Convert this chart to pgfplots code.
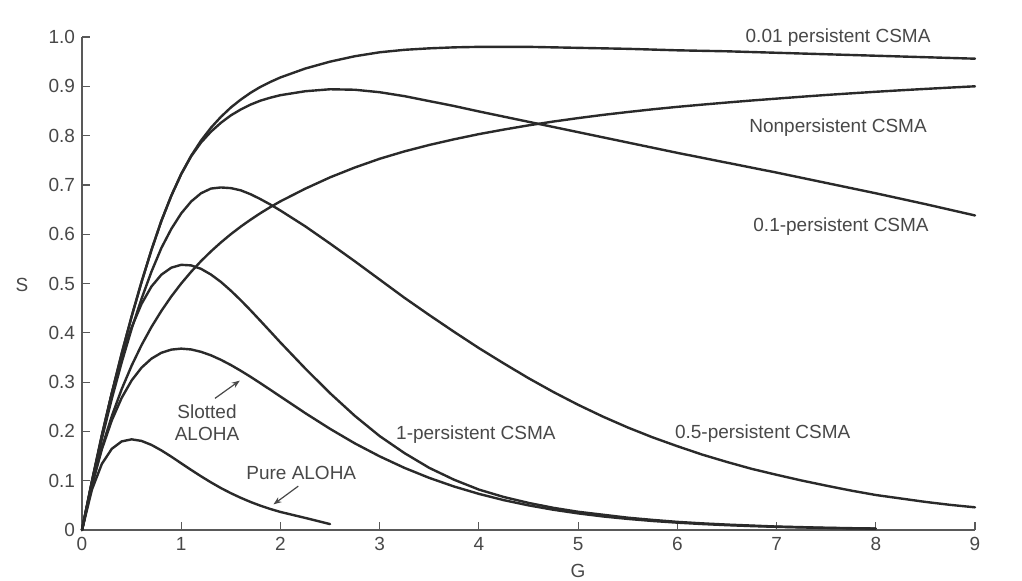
\documentclass[border=0pt]{standalone}
\usepackage{fontspec}
\setmainfont{Liberation Sans}
\usepackage{pgfplots}
\pgfplotsset{compat=1.18}
\usetikzlibrary{arrows.meta}
\definecolor{ink}{HTML}{2A2A2A}
\definecolor{txt}{HTML}{484848}
\begin{document}
\begin{tikzpicture}[x=1pt,y=1pt]
\useasboundingbox (0,0) rectangle (511,290);
\begin{axis}[
  at={(41pt,25pt)}, anchor=south west,
  scale only axis, width=446.5pt, height=246.5pt,
  xmin=0, xmax=9, ymin=0, ymax=1,
  axis x line=bottom, axis y line=left,
  axis line style={-, black!65, line width=0.8pt},
  tick align=inside, major tick length=4pt,
  tick style={black!65, line width=0.6pt},
  xtick={0,1,2,3,4,5,6,7,8,9},
  xticklabels={0,1,2,3,4,5,6,7,8,9},
  ytick={0,0.1,0.2,0.3,0.4,0.5,0.6,0.7,0.8,0.9,1},
  yticklabels={0,0.1,0.2,0.3,0.4,0.5,0.6,0.7,0.8,0.9,1.0},
  ticklabel style={font=\fontsize{9.5}{11}\selectfont, text=txt},
  clip=false,
  curve/.style={draw=ink, line width=1.2pt, sharp plot, line join=round, line cap=round, mark=none},
]
% Pure ALOHA
\addplot[curve] coordinates {(0,0)(0.1,0.0819)(0.2,0.1341)(0.3,0.1646)(0.4,0.1797)(0.5,0.1839)(0.6,0.1807)(0.7,0.1726)(0.8,0.1615)(0.9,0.1488)(1,0.1353)(1.1,0.1219)(1.2,0.1089)(1.3,0.0966)(1.4,0.0851)(1.5,0.0747)(1.6,0.0653)(1.7,0.0568)(1.8,0.0492)(1.9,0.0425)(2,0.0366)(2.25,0.0245)(2.5,0.012)};
% Slotted ALOHA
\addplot[curve] coordinates {(0,0)(0.1,0.0905)(0.2,0.1637)(0.3,0.2222)(0.4,0.2681)(0.5,0.3033)(0.6,0.3293)(0.7,0.3476)(0.8,0.3595)(0.9,0.3659)(1,0.3679)(1.1,0.3662)(1.2,0.3614)(1.3,0.3543)(1.4,0.3452)(1.5,0.3347)(1.6,0.323)(1.7,0.3106)(1.8,0.2975)(1.9,0.2842)(2,0.2707)(2.25,0.2371)(2.5,0.2052)(2.75,0.1757)(3,0.1494)(3.25,0.126)(3.5,0.1057)(3.75,0.0882)(4,0.0733)(4.25,0.0606)(4.5,0.05)(4.75,0.0411)(5,0.0337)(5.25,0.0275)(5.5,0.0225)(5.75,0.0183)(6,0.0149)(6.25,0.0121)(6.5,0.0098)(6.75,0.0079)(7,0.0064)(7.25,0.0052)(7.5,0.0041)(7.75,0.0033)(8,0.0027)};
% 1-persistent CSMA
\addplot[curve] coordinates {(0,0)(0.1,0.0991)(0.2,0.1929)(0.3,0.2776)(0.4,0.3507)(0.5,0.4111)(0.6,0.4586)(0.7,0.4939)(0.8,0.5179)(0.9,0.5321)(1,0.5379)(1.1,0.5367)(1.2,0.5297)(1.3,0.5181)(1.4,0.5032)(1.5,0.4855)(1.6,0.4661)(1.7,0.4454)(1.8,0.4239)(1.9,0.4022)(2,0.3803)(2.25,0.3276)(2.5,0.2775)(2.75,0.2315)(3,0.1905)(3.25,0.156)(3.5,0.126)(3.75,0.102)(4,0.082)(4.25,0.067)(4.5,0.055)(4.75,0.045)(5,0.037)(5.25,0.031)(5.5,0.025)(5.75,0.0205)(6,0.0165)(6.25,0.0135)(6.5,0.011)(6.75,0.009)(7,0.007)(7.25,0.0058)(7.5,0.0045)(7.75,0.0037)(8,0.003)};
% Nonpersistent CSMA
\addplot[curve] coordinates {(0,0)(0.1,0.0909)(0.2,0.1667)(0.3,0.2308)(0.4,0.2857)(0.5,0.3333)(0.6,0.375)(0.7,0.4118)(0.8,0.4444)(0.9,0.4737)(1,0.5)(1.1,0.5238)(1.2,0.5455)(1.3,0.5652)(1.4,0.5833)(1.5,0.6)(1.6,0.6154)(1.7,0.6296)(1.8,0.6429)(1.9,0.6552)(2,0.6667)(2.25,0.6923)(2.5,0.7153)(2.75,0.7353)(3,0.753)(3.25,0.768)(3.5,0.781)(3.75,0.7925)(4,0.803)(4.25,0.8122)(4.5,0.8208)(4.75,0.8285)(5,0.8355)(5.25,0.842)(5.5,0.8478)(5.75,0.8533)(6,0.8583)(6.25,0.8628)(6.5,0.8671)(6.75,0.8712)(7,0.875)(7.25,0.8788)(7.5,0.8824)(7.75,0.8857)(8,0.8889)(8.25,0.8919)(8.5,0.8947)(8.75,0.8974)(9,0.9)};
% 0.5-persistent CSMA
\addplot[curve] coordinates {(0,0)(0.1,0.096)(0.2,0.185)(0.3,0.266)(0.4,0.34)(0.5,0.408)(0.6,0.469)(0.7,0.524)(0.8,0.572)(0.9,0.6107)(1,0.6422)(1.1,0.6663)(1.2,0.6831)(1.3,0.6926)(1.4,0.6948)(1.5,0.6935)(1.6,0.689)(1.7,0.681)(1.8,0.671)(1.9,0.66)(2,0.648)(2.25,0.616)(2.5,0.581)(2.75,0.545)(3,0.508)(3.25,0.471)(3.5,0.436)(3.75,0.402)(4,0.369)(4.25,0.338)(4.5,0.308)(4.75,0.28)(5,0.254)(5.25,0.23)(5.5,0.208)(5.75,0.188)(6,0.17)(6.25,0.153)(6.5,0.138)(6.75,0.124)(7,0.112)(7.25,0.1005)(7.5,0.09)(7.75,0.08)(8,0.071)(8.25,0.064)(8.5,0.057)(8.75,0.051)(9,0.046)};
% 0.1-persistent CSMA
\addplot[curve] coordinates {(0,0)(0.1,0.098)(0.2,0.19)(0.3,0.277)(0.4,0.358)(0.5,0.433)(0.6,0.503)(0.7,0.568)(0.8,0.627)(0.9,0.678)(1,0.722)(1.1,0.758)(1.2,0.786)(1.3,0.808)(1.4,0.826)(1.5,0.841)(1.6,0.853)(1.7,0.863)(1.8,0.871)(1.9,0.877)(2,0.882)(2.25,0.89)(2.5,0.894)(2.75,0.893)(3,0.888)(3.25,0.88)(3.5,0.87)(3.75,0.86)(4,0.849)(4.5,0.828)(5,0.807)(5.5,0.786)(6,0.765)(6.5,0.745)(7,0.725)(7.5,0.704)(8,0.683)(8.5,0.661)(9,0.638)};
% 0.01-persistent CSMA
\addplot[curve] coordinates {(0,0)(0.1,0.098)(0.2,0.19)(0.3,0.277)(0.4,0.358)(0.5,0.433)(0.6,0.503)(0.7,0.568)(0.8,0.627)(0.9,0.678)(1,0.722)(1.1,0.759)(1.2,0.79)(1.3,0.816)(1.4,0.838)(1.5,0.857)(1.6,0.873)(1.7,0.887)(1.8,0.899)(1.9,0.909)(2,0.918)(2.25,0.936)(2.5,0.95)(2.75,0.961)(3,0.969)(3.25,0.974)(3.5,0.977)(3.75,0.979)(4,0.98)(4.25,0.98)(4.5,0.98)(4.75,0.979)(5,0.978)(5.5,0.976)(6,0.973)(6.5,0.971)(7,0.968)(7.5,0.965)(8,0.962)(8.5,0.959)(9,0.956)};

\begin{scope}[every node/.style={text=txt, font=\fontsize{9.5}{11}\selectfont}]
\node at (axis cs:7.62,0.998) {0.01 persistent CSMA};
\node at (axis cs:7.62,0.817) {Nonpersistent CSMA};
\node at (axis cs:7.65,0.615) {0.1-persistent CSMA};
\node at (axis cs:6.86,0.196) {0.5-persistent CSMA};
\node at (axis cs:3.97,0.193) {1-persistent CSMA};
\node at (axis cs:2.21,0.115) {Pure ALOHA};
\node[align=center] at (axis cs:1.26,0.217) {Slotted\\ALOHA};
\end{scope}
\draw[-{Stealth[length=4pt,width=3pt]}, txt, line width=0.6pt] (axis cs:1.34,0.267) -- (axis cs:1.59,0.303);
\draw[-{Stealth[length=4pt,width=3pt]}, txt, line width=0.6pt] (axis cs:2.18,0.089) -- (axis cs:1.93,0.052);
\end{axis}
\node[text=txt, font=\fontsize{9.5}{11}\selectfont] at (11,147.5) {S};
\node[text=txt, font=\fontsize{9.5}{11}\selectfont] at (289,4.5) {G};
\end{tikzpicture}
\end{document}
